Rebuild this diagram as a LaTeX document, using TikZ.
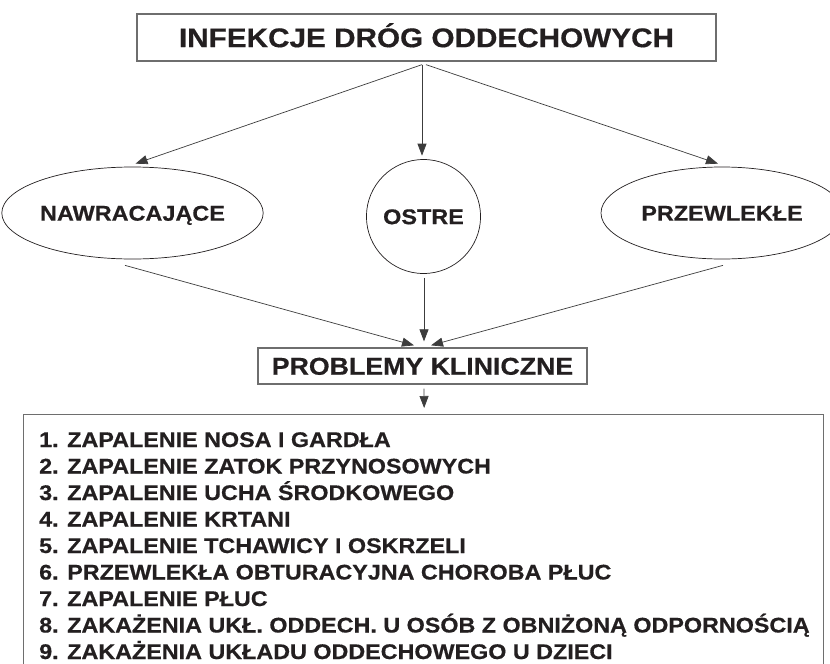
\documentclass[tikz,border=0pt]{standalone}
\usepackage{fontspec}
\setmainfont{Liberation Sans}[FakeStretch=1.1,FakeBold=0.5]
\usetikzlibrary{arrows.meta,shapes.geometric,calc}
\definecolor{ink}{HTML}{231F20}
\definecolor{boxline}{HTML}{6E6E6E}
\definecolor{conn}{HTML}{3C3C3C}
\begin{document}
\begin{tikzpicture}[x=1pt,y=-1pt,
  fnt/.style={font=\bfseries\fontsize{#1}{#1}\selectfont, text=ink},
  rectbox/.style={draw=boxline, line width=1.3pt, inner sep=0pt},
  ovalbox/.style={ellipse, draw=ink, line width=0.7pt, inner sep=0pt},
  conn/.style={draw=conn, line width=0.7pt, -{Triangle[length=12pt,width=9pt]}},
  item/.style={fnt=21.2, anchor=base west, inner sep=0pt, text height=15pt, text depth=0pt}]
\useasboundingbox (0,0) rectangle (830,664);
\fill[white] (0,0) rectangle (830,664);

\node[rectbox, fnt=27, minimum width=579, minimum height=47, text height=19.3pt, text depth=0pt] (title) at (426.5,37.5) {INFEKCJE DRÓG ODDECHOWYCH};

\node[ovalbox, fnt=21.3, minimum width=241, minimum height=92, text height=15.3pt, text depth=0pt] (nawr) at (132.5,213) {NAWRACAJĄCE};
\node[ovalbox, fnt=21.3, minimum width=111, minimum height=114, text height=15.3pt, text depth=0pt] (ostre) at (423.5,216.5) {OSTRE};
\node[ovalbox, fnt=21.3, minimum width=242, minimum height=92, text height=15.3pt, text depth=0pt] (przew) at (722,213) {PRZEWLEKŁE};

\node[rectbox, fnt=24.3, minimum width=329, minimum height=36, text height=17.4pt, text depth=0pt] (prob) at (422.5,366) {PROBLEMY KLINICZNE};

\node[rectbox, anchor=north west, minimum width=800.5, minimum height=290] (list) at (22.5,414) {};

% connector end points
\coordinate (t1) at ($(title.south)+(-4.5,3)$);
\coordinate (t3) at ($(title.south)+(-0.5,3)$);
\coordinate (nawrIn) at ($(nawr.north)+(3,-3)$);
\coordinate (ostreIn) at ($(ostre.north)+(-1.5,-3.5)$);
\coordinate (przewIn) at ($(przew.north)+(-4,-3)$);
\coordinate (nawrOut) at ($(nawr.south)+(-7.5,6)$);
\coordinate (ostreOut) at ($(ostre.south)+(0.5,4)$);
\coordinate (przewOut) at ($(przew.south)+(1,6)$);
\coordinate (probInL) at ($(prob.north)+(-8.5,-2)$);
\coordinate (probInM) at ($(prob.north)+(1.5,-6)$);
\coordinate (probInR) at ($(prob.north)+(8.5,-2)$);
\coordinate (probOut) at ($(prob.south)+(1.5,4)$);
\coordinate (listIn) at ($(list.north)+(0.75,-6)$);

\draw[conn] (t1) -- (nawrIn);
\draw[conn] (t1) -- (t1 |- ostreIn);
\draw[conn] (t3) -- (przewIn);
\draw[conn] (nawrOut) -- (probInL);
\draw[conn] (ostreOut) -- (probInM);
\draw[conn] (przewOut) -- (probInR);
\draw[conn] (probOut) -- (listIn);

\node[item] (l1) at (39,447) {1. ZAPALENIE NOSA I GARDŁA};
\node[item] (l2) at (39,473.5) {2. ZAPALENIE ZATOK PRZYNOSOWYCH};
\node[item] (l3) at (39,500) {3. ZAPALENIE UCHA ŚRODKOWEGO};
\node[item] (l4) at (39,526.5) {4. ZAPALENIE KRTANI};
\node[item] (l5) at (39,553) {5. ZAPALENIE TCHAWICY I OSKRZELI};
\node[item] (l6) at (39,579.5) {6. PRZEWLEKŁA OBTURACYJNA CHOROBA PŁUC};
\node[item] (l7) at (39,606) {7. ZAPALENIE PŁUC};
\node[item] (l8) at (39,632.5) {8. ZAKAŻENIA UKŁ. ODDECH. U OSÓB Z OBNIŻONĄ ODPORNOŚCIĄ};
\node[item] (l9) at (39,659) {9. ZAKAŻENIA UKŁADU ODDECHOWEGO U DZIECI};
\end{tikzpicture}
\end{document}
